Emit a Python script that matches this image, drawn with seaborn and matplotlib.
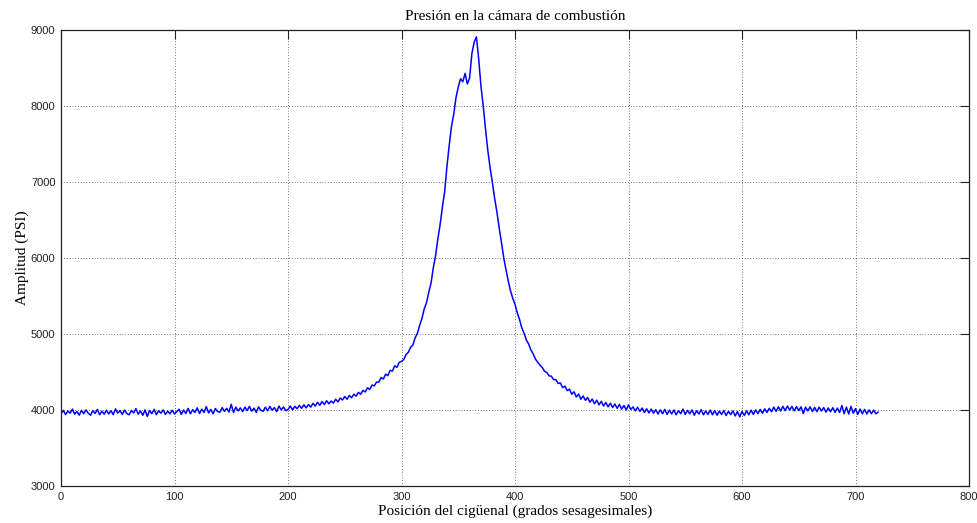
import numpy as np
import pandas as pd
import matplotlib
matplotlib.use("Agg")
import matplotlib.pyplot as plt
import seaborn as sns

# Crank position samples (degrees), every 2 degrees from 0 to 720
posicion = np.arange(0, 722, 2)

# Pressure readings (PSI), one per sample
amplitud = [
    3950, 3995, 3940, 3988, 3958, 4012, 3945, 3980, 3932, 3995,
    3952, 4002, 3958, 3932, 3992, 3955, 4008, 3938, 3985, 3945,
    3998, 3948, 3990, 3940, 4015, 3960, 3992, 3942, 4000, 3952,
    3938, 3995, 3962, 4018, 3945, 3988, 3930, 4002, 3915, 3992,
    3952, 4008, 3940, 3990, 3958, 4002, 3942, 3985, 3950, 3998,
    3948, 3980, 4010, 3942, 4000, 3955, 4022, 3950, 4005, 3968,
    4028, 3955, 4012, 3968, 4045, 3962, 4008, 3950, 4020, 3978,
    3972, 4032, 3982, 4022, 3975, 4075, 3968, 4038, 3988, 4028,
    3978, 4038, 3992, 4048, 3985, 4025, 3970, 4042, 3998, 3982,
    4038, 3988, 4048, 3998, 4032, 3980, 4052, 4002, 4040, 3992,
    4008, 4052, 4002, 4048, 4018, 4062, 4022, 4068, 4028, 4072,
    4038, 4088, 4052, 4102, 4062, 4112, 4072, 4122, 4082, 4118,
    4092, 4142, 4108, 4158, 4132, 4178, 4142, 4192, 4162, 4208,
    4182, 4232, 4208, 4258, 4238, 4292, 4272, 4328, 4318, 4368,
    4368, 4428, 4408, 4472, 4452, 4522, 4512, 4582, 4562, 4628,
    4640, 4665, 4730, 4760, 4825, 4855, 4950, 5010, 5115, 5205,
    5330, 5410, 5550, 5670, 5870, 6030, 6250, 6440, 6670, 6870,
    7200, 7480, 7730, 7890, 8110, 8250, 8360, 8320, 8430, 8290,
    8370, 8690, 8840, 8910, 8620, 8260, 8000, 7700, 7420, 7190,
    7000, 6790, 6610, 6400, 6210, 6010, 5850, 5700, 5570, 5470,
    5390, 5280, 5190, 5080, 5010, 4920, 4870, 4790, 4740, 4670,
    4630, 4590, 4560, 4510, 4495, 4450, 4445, 4400, 4400, 4350,
    4355, 4295, 4315, 4255, 4275, 4208, 4240, 4172, 4210, 4142,
    4185, 4128, 4165, 4102, 4145, 4082, 4130, 4068, 4115, 4052,
    4100, 4042, 4090, 4032, 4080, 4022, 4075, 4012, 4060, 4002,
    4068, 4008, 4040, 3988, 4036, 3982, 4026, 3968, 4016, 3962,
    4012, 3958, 4005, 3948, 4002, 3952, 4008, 3942, 3998, 3948,
    4000, 3938, 3992, 3952, 4012, 3942, 3995, 3950, 4002, 3932,
    3992, 3948, 4005, 3938, 3988, 3942, 3998, 3938, 3992, 3932,
    3985, 3942, 3992, 3928, 3982, 3940, 3988, 3922, 3980, 3910,
    3982, 3928, 3990, 3938, 3998, 3942, 4002, 3952, 4008, 3958,
    4015, 3968, 4022, 3978, 4038, 3982, 4042, 3988, 4048, 3992,
    4052, 3998, 4048, 3988, 4045, 3992, 4042, 3952, 4038, 3988,
    4042, 3982, 4035, 3978, 4038, 3988, 4032, 3972, 4028, 3978,
    4030, 3970, 4025, 3968, 4058, 3952, 4038, 3948, 4048, 3958,
    4018, 3942, 4012, 3952, 4008, 3948, 4002, 3952, 3998, 3950,
    3975,
]

x_ticks = [0, 100, 200, 300, 400, 500, 600, 700, 800]
y_ticks = [3000, 4000, 5000, 6000, 7000, 8000, 9000]

titulo = "Presión en la cámara de combustión"
etiqueta_x = "Posición del cigüenal (grados sesagesimales)"
etiqueta_y = "Amplitud (PSI)"

df = pd.DataFrame({"pos": posicion, "amp": amplitud})

sns.set_theme(style="white")
plt.rcParams["font.family"] = ["Liberation Sans", "DejaVu Sans"]

fig = plt.figure(figsize=(9.78, 5.23), dpi=100)
ax = fig.add_axes([0.0624, 0.0707, 0.9284, 0.8719])

sns.lineplot(data=df, x="pos", y="amp", color="#0000ff", linewidth=1.1,
             estimator=None, errorbar=None, ax=ax)

ax.set_xlim(0, 800)
ax.set_ylim(3000, 9000)
ax.set_xticks(x_ticks)
ax.set_yticks(y_ticks)
ax.set_xticklabels([str(t) for t in x_ticks])
ax.set_yticklabels([str(t) for t in y_ticks])

ax.grid(True, color="black", linestyle=(0, (1, 3)), linewidth=0.5)
ax.set_axisbelow(True)
ax.tick_params(direction="in", length=6.5, width=0.8, top=True, right=True,
               labelsize=8, colors="#222222", pad=4)
for s in ax.spines.values():
    s.set_linewidth(0.9)
    s.set_color("#222222")

serif = ["Liberation Serif", "DejaVu Serif"]
ax.set_title(titulo, family=serif, fontsize=11, pad=7, color="black")
ax.set_xlabel(etiqueta_x, family=serif, fontsize=11, labelpad=2, color="black")
ax.set_ylabel(etiqueta_y, family=serif, fontsize=11, labelpad=1, color="black")

fig.savefig("out.png", dpi=100, facecolor="white")
